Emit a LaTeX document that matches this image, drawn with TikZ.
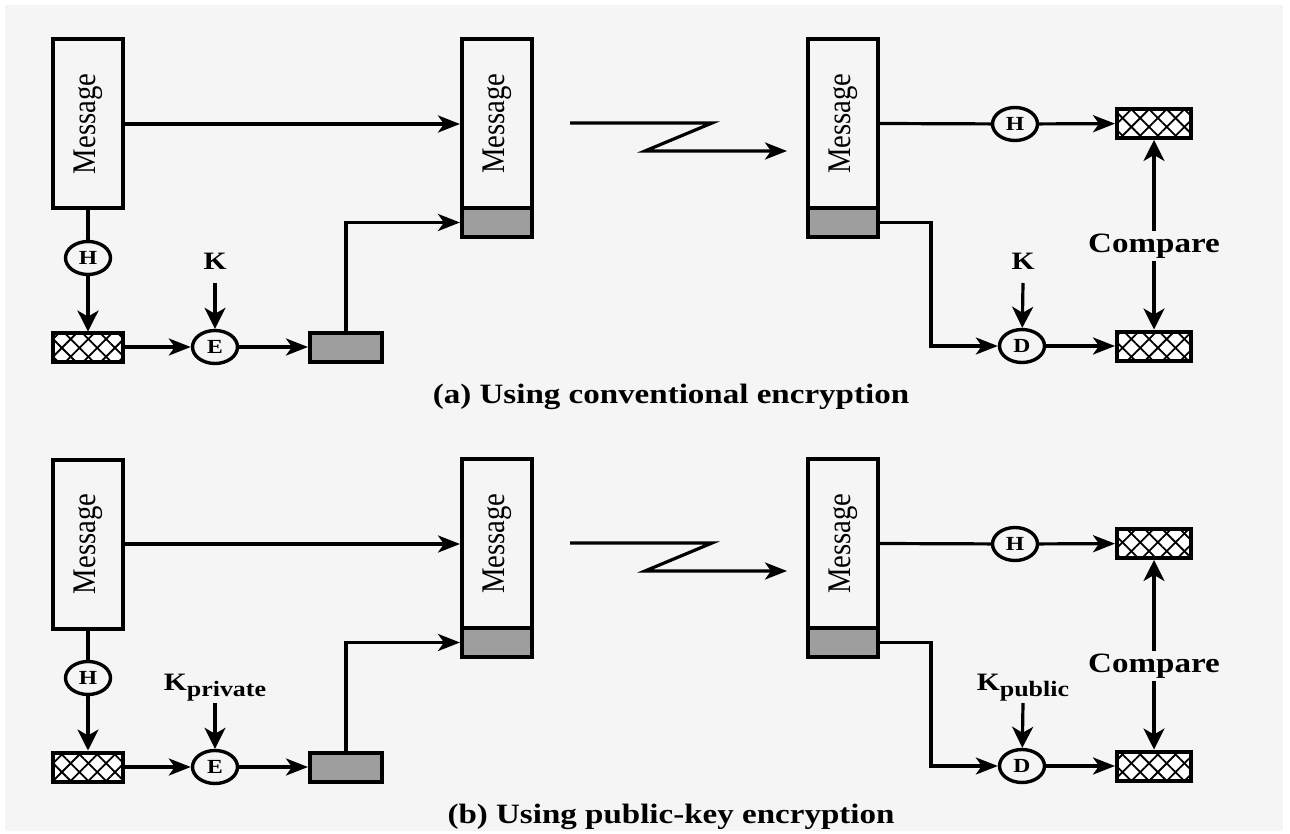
\documentclass[tikz,border=0pt]{standalone}
\usepackage{fontspec}
\setmainfont{Liberation Serif}
\newfontfamily\labfont[FakeStretch=1.18]{Liberation Serif}
\newfontfamily\msgfont[FakeStretch=0.87]{Liberation Serif}
\usetikzlibrary{arrows.meta,shapes.geometric,patterns.meta}
\tikzset{
  ln/.style={line width=3.2pt},
  harr/.style={line width=3.2pt,-{Stealth[length=22pt,width=17pt,inset=6pt]}},
  varr/.style={line width=3.2pt,-{Stealth[length=21pt,width=21pt,inset=6pt]}},
  msgbox/.style={draw,line width=4pt,minimum width=70pt,minimum height=169pt,inner sep=0pt,
    font=\msgfont\fontsize{33}{33}\selectfont},
  sigbox/.style={draw,line width=4pt,fill=black!38,minimum width=70pt,minimum height=29pt,inner sep=0pt},
  hashbox/.style={draw,line width=4pt,minimum width=72pt,minimum height=29pt,inner sep=0pt,
    preaction={fill=white},
    preaction={pattern={Lines[angle=45,distance=12.5pt,line width=1.8pt]},pattern color=black},
    pattern={Lines[angle=-45,distance=12.5pt,line width=1.8pt]},pattern color=black},
  op/.style={draw,ellipse,line width=3.4pt,minimum width=45pt,minimum height=33pt,inner sep=0pt,
    font=\labfont\bfseries\fontsize{20}{20}\selectfont},
  lab/.style={font=\labfont\bfseries\fontsize{25}{25}\selectfont,inner sep=0pt,anchor=base},
  captxt/.style={font=\labfont\bfseries\fontsize{28}{28}\selectfont,inner sep=0pt,anchor=base},
  cmpst/.style={font=\labfont\bfseries\fontsize{28}{28}\selectfont,inner sep=3pt},
}
\newcommand\drawpanel[5]{%
\begin{scope}[yshift=#2]
  \node[msgbox] (mA#1) at (88,124) {\rotatebox{90}{Message}};
  \node[msgbox] (mB#1) at (497,123.5) {\rotatebox{90}{Message}};
  \node[sigbox] (sB#1) at (497,222.5) {};
  \node[msgbox] (mC#1) at (843,123.5) {\rotatebox{90}{Message}};
  \node[sigbox] (sC#1) at (843,222.5) {};
  \node[op] (H#1) at (88,258) {H};
  \node[hashbox,minimum width=70pt] (hA#1) at (88,347) {};
  \node[op] (E#1) at (215,347) {E};
  \node[lab] (KA#1) at (215,270) {#3};
  \node[sigbox,minimum width=72pt] (enc#1) at (346,347) {};
  \node[op] (HH#1) at (1015,124) {H};
  \node[hashbox,minimum width=74pt] (hB#1) at (1154,123.5) {};
  \node[op] (D#1) at (1022,346) {D};
  \node[lab] (KB#1) at (1023,270) {#4};
  \node[hashbox,minimum width=74pt] (hC#1) at (1154,346) {};
  \node[cmpst] (cmp#1) at (1154,246) {Compare};
  \node[captxt] (cap#1) at (671,403) {#5};
  \coordinate (za#1) at (570,123);
  \coordinate (zb#1) at (712,123);
  \coordinate (zc#1) at (645,151);
  \coordinate (zd#1) at (787,151);
  \coordinate (bend#1) at (931,346);
  \draw[harr] (mA#1.east) -- (mA#1.east -| mB#1.west);
  \draw[ln] (mA#1) -- (H#1);
  \draw[varr] (H#1) -- (hA#1);
  \draw[harr] (hA#1) -- (E#1);
  \draw[varr] ([yshift=-13pt]KA#1.base) -- (E#1);
  \draw[harr] (E#1) -- (enc#1);
  \draw[harr] (enc#1.north) |- (sB#1.west);
  \draw[harr,line join=miter] (za#1) -- (zb#1) -- (zc#1) -- (zd#1);
  \draw[ln] (mC#1.east) -- (HH#1);
  \draw[harr] (HH#1) -- (hB#1);
  \draw[harr] (sC#1.east) -| (bend#1) -- (D#1);
  \draw[varr] ([yshift=-13pt]KB#1.base) -- (D#1);
  \draw[harr] (D#1) -- (hC#1);
  \draw[varr] (cmp#1) -- (hB#1);
  \draw[varr] (cmp#1) -- (hC#1);
\end{scope}}
\begin{document}
\begin{tikzpicture}[x=1pt,y=-1pt]
  \useasboundingbox (0,0) rectangle (1290,834);
  \fill[white] (0,0) rectangle (1290,834);
  \fill[black!4] (5,5) rectangle (1283,831);
  \drawpanel{a}{0pt}{K}{K}{(a) Using conventional encryption}
  \drawpanel{b}{-420pt}{K\raisebox{-6pt}{\fontsize{22}{22}\selectfont private}}{K\raisebox{-6pt}{\fontsize{22}{22}\selectfont public}}{(b) Using public-key encryption}
\end{tikzpicture}
\end{document}
